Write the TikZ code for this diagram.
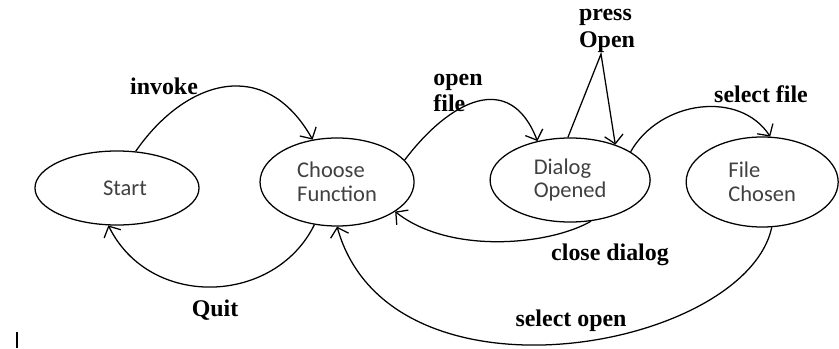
\documentclass[tikz,border=0pt]{standalone}
\usepackage{fontspec}
\setmainfont{Liberation Serif}
\newfontfamily\statefont{Carlito}
\usetikzlibrary{shapes.geometric, arrows.meta, positioning}
\tikzstyle{state}=[draw, ellipse, inner sep=0pt, align=left, text=black!75, font=\statefont\fontsize{16}{17}\selectfont]
\tikzstyle{lbl}=[inner sep=0pt, align=left, font=\bfseries\fontsize{17}{19}\selectfont]
\tikzstyle{trans}=[-{Straight Barb[angle=95:9pt]}]

\begin{document}
\begin{tikzpicture}[x=0.025cm, y=-0.025cm, line width=0.9pt]
  \useasboundingbox (0,0) rectangle (839,348);
  \node[state, minimum width=4.1cm, minimum height=1.85cm] (start) at (117,188) {\hspace{0.4cm}Start};
  \node[state, right of=start, node distance=5.5cm, yshift=0.15cm, minimum width=3.85cm, minimum height=2.2cm] (choose) {Choose\\Function};
  \node[state, right of=choose, node distance=5.825cm, yshift=0.05cm, minimum width=4cm, minimum height=2.1cm] (dialog) {Dialog\\Opened};
  \node[state, right of=dialog, node distance=4.8cm, yshift=-0.05cm, minimum width=3.8cm, minimum height=2.25cm] (file) {File\\Chosen};
  % labels
  \node[lbl] (invoke) at (164,86) {invoke};
  \node[lbl] (openfile) at (458,93) {open\\file};
  \node[lbl] (press) at (607,31) {press\\Open};
  \node[lbl] (selfile) at (761,94) {select file};
  \node[lbl] (close) at (610,255) {close dialog};
  \node[lbl] (quit) at (215,310) {Quit};
  \node[lbl] (selopen) at (571,321) {select open};
  \coordinate (apex) at (601,54);
  % transitions
  \draw[trans] (start.63) .. controls (185,80) and (265,55) .. (choose.120);
  \draw[trans] (choose.242) .. controls (275,305) and (150,310) .. (start.257);
  \draw[trans] (choose.18) .. controls (450,100) and (510,70) .. (dialog.130);
  \draw[trans] (dialog.93) -- (apex) -- (dialog.38);
  \draw[trans] (dialog.25) .. controls (660,100) and (740,90) .. (file.80);
  \draw[trans] (dialog.297) .. controls (550,245) and (450,255) .. (choose.-27);
  \draw[trans] (file.-78) .. controls (745,350) and (390,415) .. (choose.270);
  \draw (17,332) -- (17,348);
\end{tikzpicture}
\end{document}
